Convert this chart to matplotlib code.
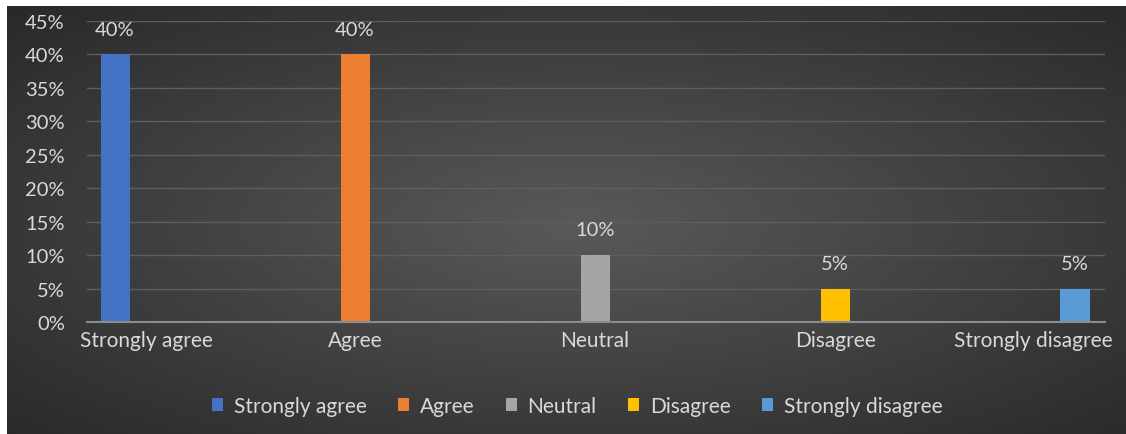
import numpy as np
import matplotlib.pyplot as plt
from matplotlib.transforms import ScaledTranslation
from matplotlib.patches import Patch

categories = ['Strongly agree', 'Agree', 'Neutral', 'Disagree', 'Strongly disagree']
values = [0.40, 0.40, 0.10, 0.05, 0.05]
labels = ['40%', '40%', '10%', '5%', '5%']
colors = ['#4472C4', '#ED7D31', '#A5A5A5', '#FFC000', '#5B9BD5']
yticks = [0, 0.05, 0.10, 0.15, 0.20, 0.25, 0.30, 0.35, 0.40, 0.45]

plt.rcParams['font.family'] = ['Lato', 'DejaVu Sans']
txt = '#d9d9d9'

fig = plt.figure(figsize=(11.26, 4.35), dpi=100, facecolor='white')

# radial dark background (chart area), a little oversized on right/bottom so no white seam
bg = fig.add_axes([7/1126, -0.02, 1 - 7/1126 + 0.02, 1 - 7/435 + 0.02])
yy, xx = np.mgrid[-1:1:300j, -1:1:800j]
r = np.sqrt(xx**2 + yy**2) / np.sqrt(2)
shade = 0.35 - 0.19 * r
bg.imshow(np.dstack([shade, shade, shade]), aspect='auto', extent=[0, 1, 0, 1], interpolation='bilinear')
bg.set_xlim(0, 1)
bg.set_ylim(0, 1)
bg.axis('off')

ax = fig.add_axes([87/1126, 112/435, 1018/1126, 301/435])
ax.patch.set_alpha(0)
x = np.arange(len(categories))
bars = ax.bar(x, values, width=0.121, color=colors, zorder=3)

for b, lab in zip(bars, labels):
    ax.annotate(lab, (b.get_x() + b.get_width()/2, b.get_height()), xytext=(0, 12),
                textcoords='offset points', ha='center', va='bottom', color=txt, fontsize=14.5)

ax.set_xlim(-0.117, 4.125)
ax.set_ylim(0, 0.45)
ax.set_yticks(yticks)
ax.set_yticklabels([f'{int(round(v*100))}%' for v in yticks], color=txt, fontsize=14.5)
ax.set_xticks(x)
ax.set_xticklabels(categories, color=txt, fontsize=15)
ax.tick_params(axis='y', length=0, pad=16)
ax.tick_params(axis='x', length=0, pad=6)

xl = ax.get_xticklabels()
xl[0].set_ha('left')
xl[0].set_transform(xl[0].get_transform() + ScaledTranslation(-35/100, 0, fig.dpi_scale_trans))
xl[-1].set_ha('right')
xl[-1].set_transform(xl[-1].get_transform() + ScaledTranslation(38/100, 0, fig.dpi_scale_trans))

ax.grid(axis='y', color='#5e5e5e', linewidth=1, zorder=0)
for s in ['top', 'right', 'left']:
    ax.spines[s].set_visible(False)
ax.spines['bottom'].set_color('#8c8c8c')
ax.spines['bottom'].set_linewidth(1.5)
ax.spines['bottom'].set_zorder(4)

handles = [Patch(facecolor=c, label=n) for c, n in zip(colors, categories)]
leg = fig.legend(handles=handles, loc='center', bbox_to_anchor=(577/1126, 28/435), ncol=5,
                 frameon=False, fontsize=15, handlelength=0.55, handleheight=0.55,
                 handletextpad=0.5, columnspacing=1.5)
for t in leg.get_texts():
    t.set_color(txt)

fig.savefig('out.png', dpi=100, facecolor='white')
